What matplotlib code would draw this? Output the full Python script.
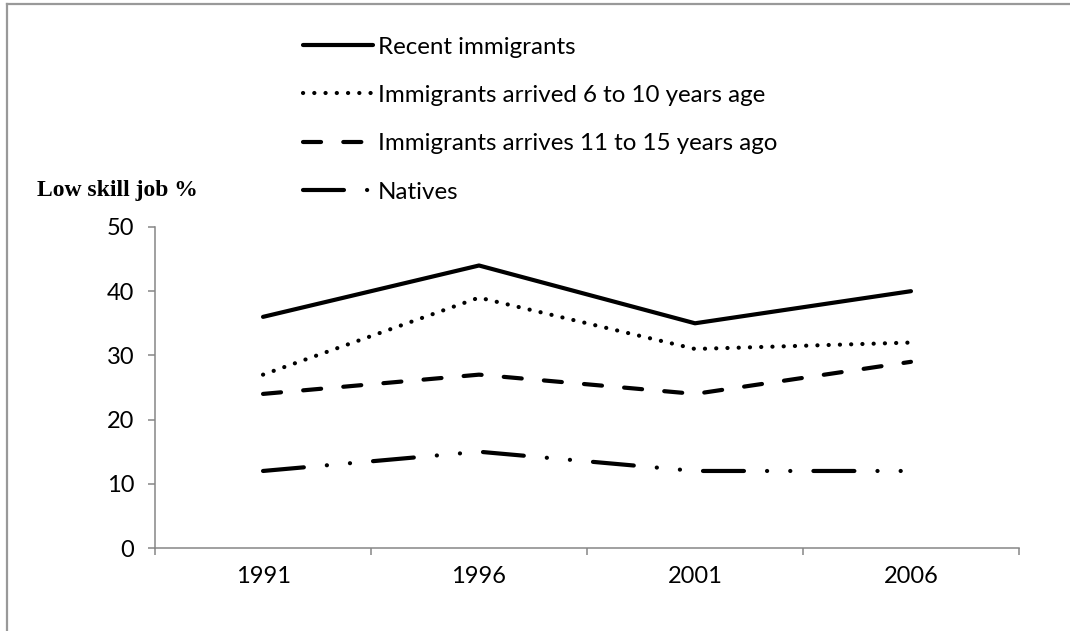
import matplotlib
matplotlib.use("Agg")
import matplotlib.pyplot as plt
from matplotlib.lines import Line2D

# data
years = ["1991", "1996", "2001", "2006"]
recent = [36, 44, 35, 40]
arrived_6_10 = [27, 39, 31, 32]
arrived_11_15 = [24, 27, 24, 29]
natives = [12, 15, 12, 12]
labels = ["Recent immigrants",
          "Immigrants arrived 6 to 10 years age",
          "Immigrants arrives 11 to 15 years ago",
          "Natives"]
y_ticks = [0, 10, 20, 30, 40, 50]

plt.rcParams['font.family'] = ['Lato', 'DejaVu Sans']
plt.rcParams['lines.scale_dashes'] = False

fig = plt.figure(figsize=(10.70, 6.31), dpi=100)
ax = fig.add_axes([0.1449, 0.1315, 0.8074, 0.5088])

x = list(range(len(years)))
lw = 3
styles = [
    None,
    (0, (0.1, 8.0)),
    (0, (13, 16)),
    (0, (29.5, 16.6, 0.1, 16.6, 0.1, 16.6)),
]
series = [recent, arrived_6_10, arrived_11_15, natives]
for vals, lab, ls in zip(series, labels, styles):
    line, = ax.plot(x, vals, color='black', lw=lw, label=lab,
                    solid_capstyle='round', dash_capstyle='round')
    if ls is not None:
        line.set_linestyle(ls)

ax.set_xlim(-0.5, len(years) - 0.5)
ax.set_ylim(0, 50)
ax.set_yticks(y_ticks)
ax.set_xticks(x)
ax.set_xticklabels(years)
ax.set_xticks([i - 0.5 for i in range(len(years) + 1)], minor=True)
ax.tick_params(axis='x', which='major', length=0, pad=13, labelsize=17)
ax.tick_params(axis='x', which='minor', length=5, width=1.1, color='#868686', direction='out')
ax.tick_params(axis='y', length=5, width=1.1, color='#868686', pad=10, labelsize=17)

for s in ['top', 'right']:
    ax.spines[s].set_visible(False)
for s in ['left', 'bottom']:
    ax.spines[s].set_color('#868686')
    ax.spines[s].set_linewidth(1.1)

fig.text(0.035, 0.698, "Low skill job %", family='Liberation Serif',
         fontweight='bold', fontsize=17, va='center', ha='left')

ax.legend(loc='upper left', bbox_to_anchor=(0.283, 0.942),
          bbox_transform=fig.transFigure, frameon=False, fontsize=17.4,
          handlelength=2.9, handletextpad=0.2, labelspacing=1.13,
          borderaxespad=0, borderpad=0)

# outer frame (top and left only)
fig.add_artist(Line2D([0.0065, 1.0], [0.9935, 0.9935], transform=fig.transFigure,
                      color='#999999', lw=1.6))
fig.add_artist(Line2D([0.0065, 0.0065], [0.0, 0.9935], transform=fig.transFigure,
                      color='#999999', lw=1.6))

fig.savefig("out.png", dpi=100)
